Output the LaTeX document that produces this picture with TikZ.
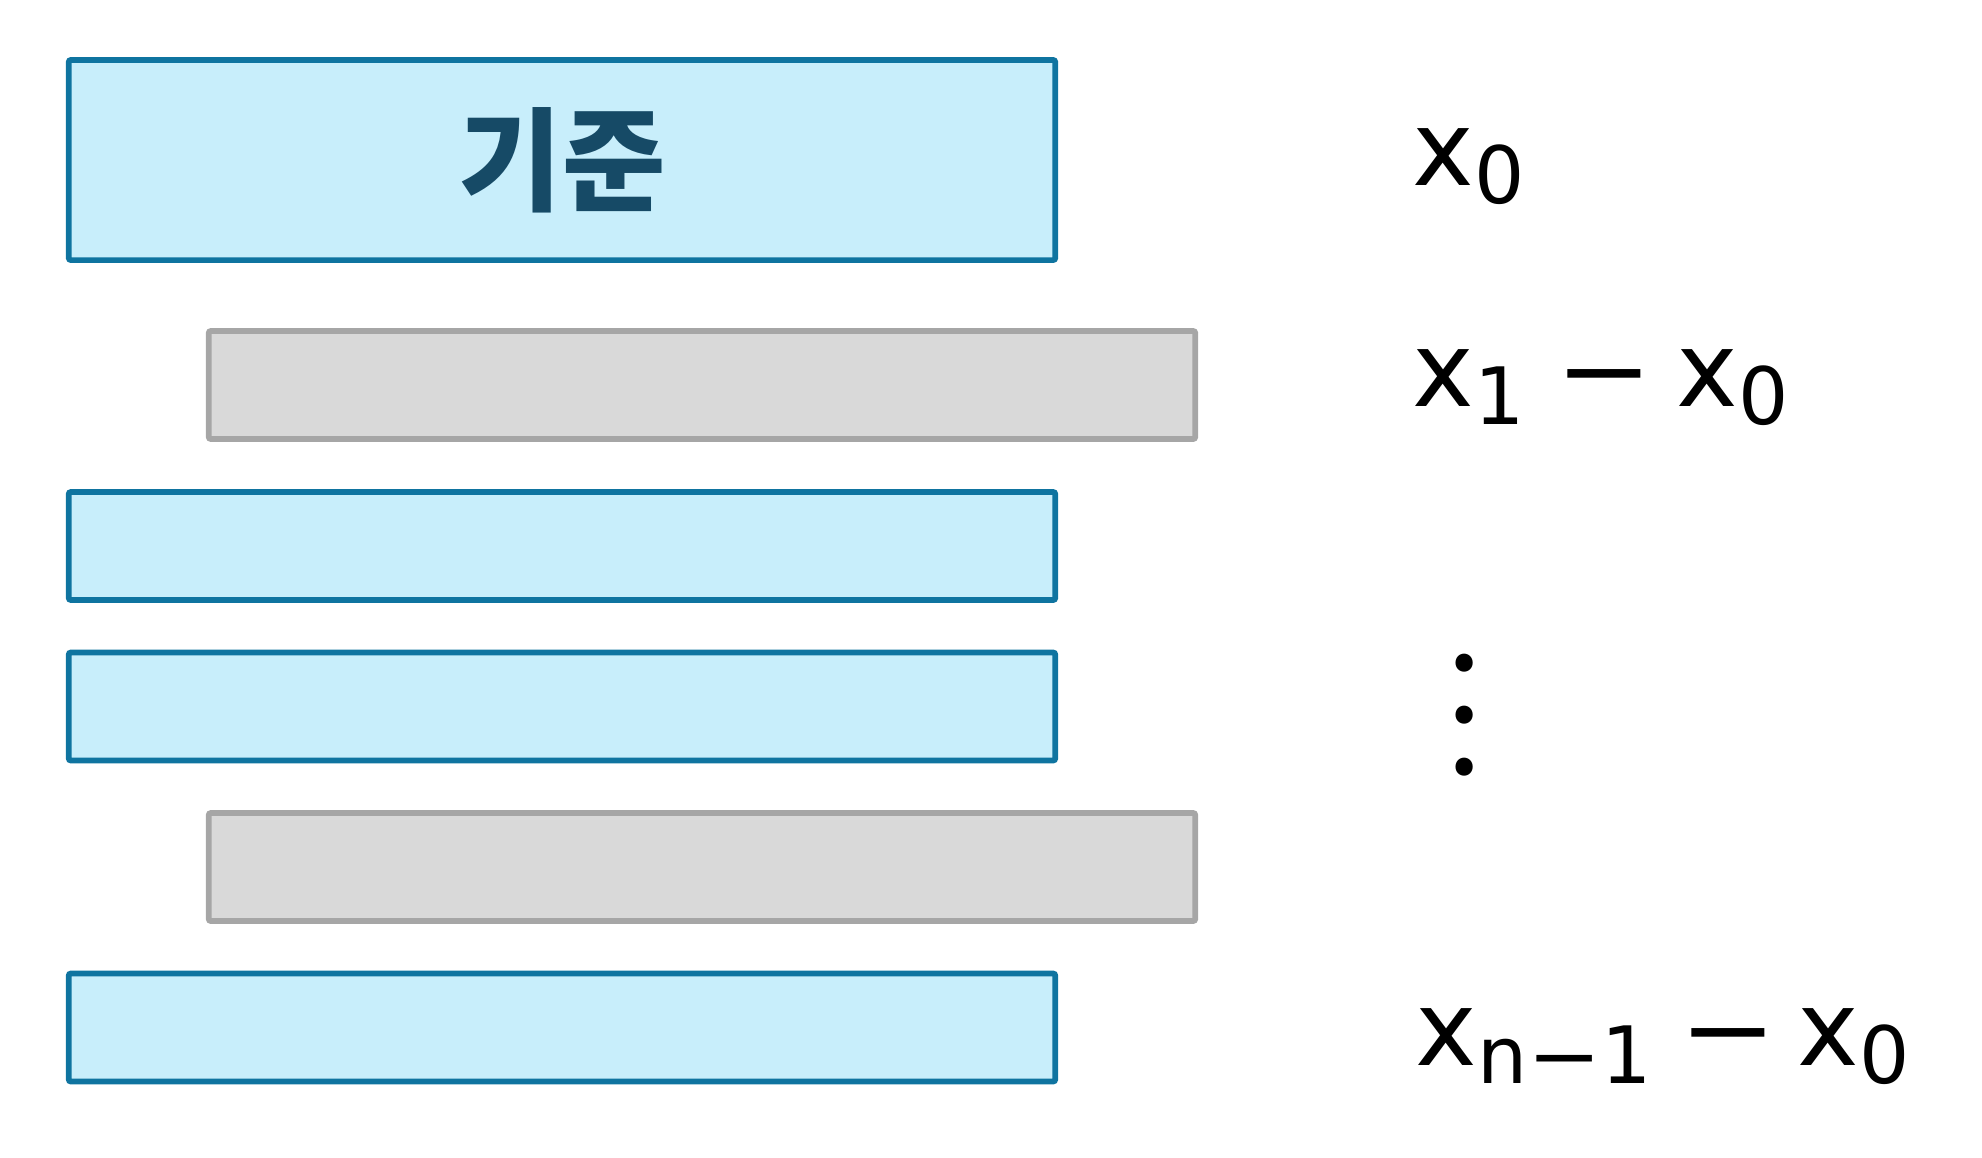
\documentclass[tikz,border=0pt]{standalone}
\usepackage{fontspec}
\usepackage{xcolor}
\usepackage{graphicx}
\usetikzlibrary{positioning}
\setmainfont{Noto Sans CJK KR}
\newfontfamily\labelfont{DejaVu Sans}
\definecolor{barblue}{HTML}{C8EEFB}
\definecolor{barblueedge}{HTML}{0F74A0}
\definecolor{bargray}{HTML}{D9D9D9}
\definecolor{bargrayedge}{HTML}{A6A6A6}
\definecolor{basetext}{HTML}{164A66}
\newcommand{\sub}[1]{\raisebox{-0.18em}{\fontsize{22.5}{22.5}\selectfont #1}}
\newcommand{\minus}{\scalebox{1.12}[1]{−}}
\tikzset{%
  every bar/.style={
    rectangle,
    rounded corners=0.6pt,
    line width=1.6pt,
    inner sep=0pt,
    minimum width=9.86cm,
    minimum height=1.08cm
  },
  bar blue/.style={
    draw=barblueedge,
    fill=barblue
  },
  bar gray/.style={
    draw=bargrayedge,
    fill=bargray
  },
  bar base/.style={
    minimum height=2cm,
    text=basetext,
    font=\bfseries\fontsize{32}{32}\selectfont
  },
  diff label/.style={
    anchor=base west,
    inner sep=0pt,
    font=\labelfont\fontsize{29.6}{29.6}\selectfont
  },
}
\begin{document}
\begin{tikzpicture}[x=0.01cm, y=-0.01cm]
    \useasboundingbox (0,0) rectangle (1982,1157);
    \node [every bar/.try, bar blue, bar base] (block-0) at (562,160) {기준};
    \foreach \m/\y in {1/546,2/706.5,3/1027.5}
      \node [every bar/.try, bar blue] (block-\m) at (562,\y) {};
    \foreach \m/\y in {1/385,2/867}
      \node [every bar/.try, bar gray] (shift-\m) at (702,\y) {};

    \node [diff label] (label-0) at (1412,185) {x\sub{0}};
    \node [diff label] (label-1) at (1412,406)
      {x\sub{1}\hspace{0.3em}\minus\hspace{0.22em}x\sub{0}};
    \node [diff label] (label-n) at (1415,1065)
      {x\sub{n\minus1}\hspace{0.26em}\minus\hspace{0.2em}x\sub{0}};
    \node [scale=3.7] (gap-dots) at (1465,676) {$\vdots$};
\end{tikzpicture}
\end{document}
